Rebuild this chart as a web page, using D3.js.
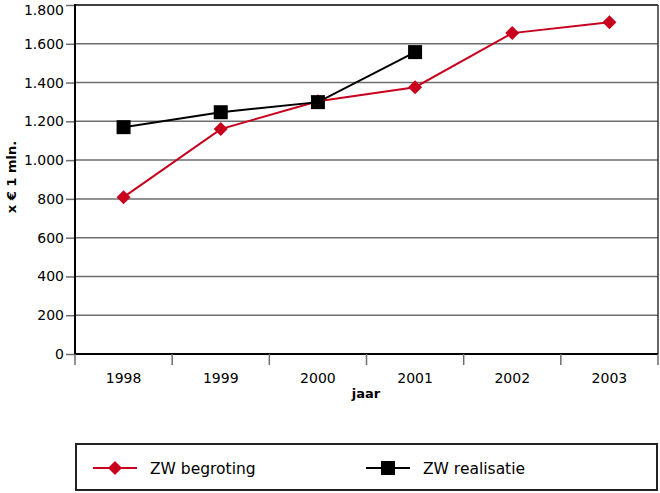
<!DOCTYPE html>
<html><head><meta charset="utf-8">
<script src="https://cdn.jsdelivr.net/npm/d3@7"></script>
<style>body{margin:0;background:#fff}svg{display:block;font-family:"DejaVu Sans",sans-serif}</style>
</head><body><svg id="c" width="660" height="493"></svg>
<script>
const years = ["1998","1999","2000","2001","2002","2003"];
const begroting = [809, 1160, 1304, 1376, 1655, 1711];
const realisatie = [1170, 1247, 1299, 1557];
const yTicks = [0,200,400,600,800,1000,1200,1400,1600,1800];
const yLabels = ["0","200","400","600","800","1.000","1.200","1.400","1.600","1.800"];

const svg = d3.select("#c");
const L=75, R=658, T=5, B=354;
const x = d3.scaleBand().domain(years).range([L,R]);
const y = d3.scaleLinear().domain([0,1800]).range([B,T]);
const red = "#c8001e";
const FONT = "'DejaVu Sans',sans-serif";

// gridlines
svg.append("g").selectAll("line").data(yTicks.slice(1)).join("line")
  .attr("x1",L).attr("x2",R).attr("y1",d=>y(d)).attr("y2",d=>y(d))
  .attr("stroke",d=>d===1800?"#000":"#6e6e6e").attr("stroke-width",1.5);
// right border
svg.append("line").attr("x1",R).attr("x2",R).attr("y1",T).attr("y2",B).attr("stroke","#333").attr("stroke-width",1.5);

// y axis
const ya = svg.append("g").attr("transform",`translate(${L},0)`)
  .call(d3.axisLeft(y).tickValues(yTicks).tickFormat((d,i)=>yLabels[i]).tickSize(9).tickPadding(2));
ya.select(".domain").remove();
ya.selectAll(".tick line").attr("stroke","#6e6e6e").attr("stroke-width",1.5);
ya.selectAll("text").attr("font-size",14).attr("fill","#000").attr("font-family",FONT)
  .attr("dy",d=>d===1800?"9px":"0.32em");
svg.append("line").attr("x1",L).attr("x2",L).attr("y1",T-1).attr("y2",B+1).attr("stroke","#000").attr("stroke-width",2);

// x axis
svg.append("line").attr("x1",L).attr("x2",R).attr("y1",B).attr("y2",B).attr("stroke","#000").attr("stroke-width",2);
const bounds = years.map(d=>x(d)).concat([R]);
svg.append("g").selectAll("line").data(bounds).join("line")
  .attr("x1",d=>d).attr("x2",d=>d).attr("y1",B).attr("y2",B+11)
  .attr("stroke","#6e6e6e").attr("stroke-width",1.5);
svg.append("g").selectAll("text").data(years).join("text")
  .attr("x",d=>x(d)+x.bandwidth()/2).attr("y",383).attr("text-anchor","middle")
  .attr("font-size",14).text(d=>d);
svg.append("text").attr("x",366).attr("y",398).attr("text-anchor","middle")
  .attr("font-size",13).attr("font-weight","bold").text("jaar");
svg.append("text").attr("transform","translate(16,177) rotate(-90)").attr("text-anchor","middle")
  .attr("font-size",13).attr("font-weight","bold").text("x € 1 mln.");

const cx = d=>x(d)+x.bandwidth()/2;
// begroting
svg.append("path").datum(begroting).attr("fill","none").attr("stroke",red).attr("stroke-width",2)
  .attr("d",d3.line().x((d,i)=>cx(years[i])).y(d=>y(d)));
const diamond = s=>`M0,${-s}L${s},0L0,${s}L${-s},0Z`;
svg.append("g").selectAll("path").data(begroting).join("path")
  .attr("d",diamond(7)).attr("fill",red)
  .attr("transform",(d,i)=>`translate(${cx(years[i])},${y(d)})`);
// realisatie
svg.append("path").datum(realisatie).attr("fill","none").attr("stroke","#000").attr("stroke-width",2)
  .attr("d",d3.line().x((d,i)=>cx(years[i])).y(d=>y(d)));
svg.append("g").selectAll("rect").data(realisatie).join("rect")
  .attr("x",(d,i)=>cx(years[i])-7).attr("y",d=>y(d)-7).attr("width",14).attr("height",14).attr("fill","#000");

// legend
svg.append("rect").attr("x",76).attr("y",444).attr("width",581).attr("height",46)
  .attr("fill","none").attr("stroke","#222").attr("stroke-width",2);
const lg = [{name:"ZW begroting",c:red,m:"d",x:93},{name:"ZW realisatie",c:"#000",m:"s",x:366}];
lg.forEach(l=>{
  const g = svg.append("g");
  g.append("line").attr("x1",l.x).attr("x2",l.x+44).attr("y1",468).attr("y2",468).attr("stroke",l.c).attr("stroke-width",2);
  if(l.m==="d") g.append("path").attr("d",diamond(7)).attr("fill",l.c).attr("transform",`translate(${l.x+22},468)`);
  else g.append("rect").attr("x",l.x+15).attr("y",461).attr("width",14).attr("height",14).attr("fill",l.c);
  g.append("text").attr("x",l.x+57).attr("y",474).attr("font-size",15.5).text(l.name);
});
</script></body></html>
